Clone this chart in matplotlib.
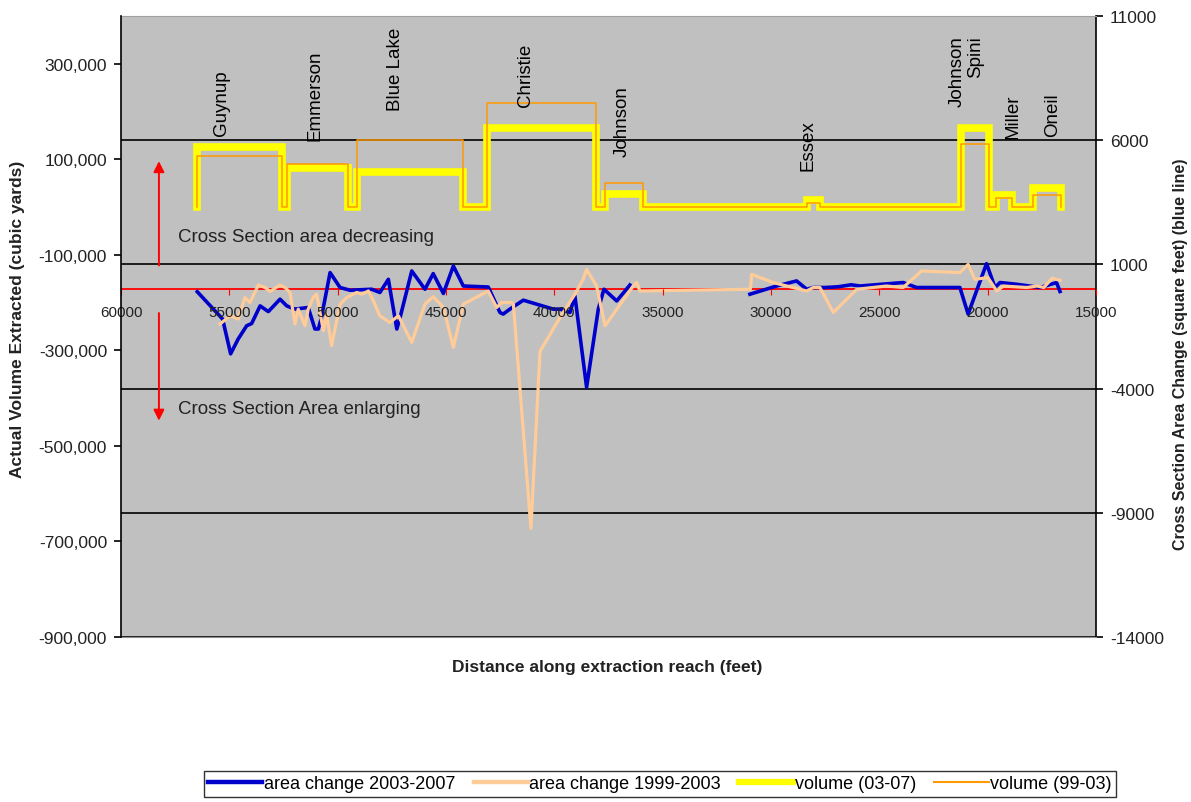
import matplotlib.pyplot as plt
import numpy as np
from matplotlib.lines import Line2D
from matplotlib.ticker import FuncFormatter

plt.rcParams['font.family'] = ['Liberation Sans', 'DejaVu Sans']
plt.rcParams['axes.unicode_minus'] = False

# Extraction sites along the reach (feet) and volume extracted (cubic yards)
site_names = ['Guynup', 'Emmerson', 'Blue Lake', 'Christie', 'Johnson',
              'Essex', 'Johnson\nSpini', 'Miller', 'Oneil']
site_start = [56490, 52340, 49110, 43110, 37660, 28340, 21230, 19620, 17910]
site_end = [52570, 49520, 44220, 38080, 35910, 27740, 19940, 18880, 16620]
vol_0307 = [125000, 82000, 73000, 166000, 27000, 15000, 165000, 25000, 40000]
vol_9903 = [108000, 90000, 140000, 217000, 50000, 8000, 133000, 20000, 25000]

# Cross section area change (square feet), 2003-2007 (gap where no data)
dist_0307 = [56480, 55310, 54940, 54590, 54200, 53970, 53580, 53200, 52660, 52350,
             51970, 51360, 51050, 50890, 50750, 50350, 49890, 49430, 48430, 48050,
             47660, 47270, 47120, 46580, 45970, 45590, 45120, 44660, 44200, 43050,
             42510, 42360, 42050, 41430, 40820, 40050, 39740, 39280, 39050, 38510,
             37970, 37710, 37120, 36510, 33700,
             30970, 29740, 28820, 28350, 28050, 27510, 26900, 26300, 25890, 23900,
             23280, 21280, 20900, 20430, 20050, 19660, 19430, 18660, 17570, 16820, 16660]
area_0307 = [-100, -1200, -2600, -2000, -1470, -1380, -670, -900, -400, -670,
             -800, -735, -1600, -1600, -1140, 670, 70, -40, 0, -130,
             400, -1600, -1140, 735, 0, 630, -170, 935, 130, 90,
             -935, -1000, -800, -440, -600, -800, -800, -935, -270, -3945,
             -800, 0, -470, 170, np.nan,
             -200, 130, 335, 0, 70, 70, 100, 180, 130, 270,
             70, 70, -1000, 130, 1030, 70, 270, 200, 70, 270, -90]

# Cross section area change (square feet), 1999-2003
dist_9903 = [55430, 54970, 54590, 54280, 54050, 53660, 53350, 53120, 52660, 52430,
             52200, 51970, 51820, 51510, 51360, 51130, 50970, 50660, 50510, 50280,
             49890, 49580, 49120, 48890, 48580, 48350, 48050, 47590, 47200, 47120,
             46580, 45970, 45590, 45120, 44660, 44200, 43050, 42660, 42430, 41970,
             41890, 41080, 40660, 39740, 39050, 38670, 38510, 38050, 37660, 36360,
             36200, 36050, 30950, 30890, 29900, 28350, 28050, 27740, 27120, 26040,
             24670, 23900, 23050, 21280, 20900, 20590, 19990, 19580, 19270, 18200,
             17720, 17410, 17020, 16660]
area_9903 = [-1400, -1070, -1200, -335, -535, 170, 70, -90, 170, 70,
             -130, -1400, -800, -1470, -800, -335, -200, -1670, -1000, -2275,
             -600, -335, -130, -200, -70, -470, -1070, -1340, -1070, -1200,
             -2140, -600, -300, -730, -2340, -600, -70, -735, -535, -535,
             -600, -9630, -2500, -1140, -200, 400, 800, 130, -1470, 130,
             270, -70, 0, 600, 270, -70, 70, 70, -935, 0,
             130, 70, 735, 670, 1000, 400, 470, -70, 130, 70,
             130, 70, 440, 360]

x_ticks = [60000, 55000, 50000, 45000, 40000, 35000, 30000, 25000, 20000, 15000]
vol_ticks = [-900000, -700000, -500000, -300000, -100000, 100000, 300000]
area_ticks = [-14000, -9000, -4000, 1000, 6000, 11000]

# where the site names sit (feet, cubic yards)
label_x = [55340, 51050, 47350, 41350, 36880, 28290, 21000, 18830, 16980]
label_y = [150000, 140000, 203000, 211000, 108000, 77000, 360000, 144000, 148000]


def step_outline(starts, ends, vols):
    xs, ys = [], []
    for s, e, v in zip(starts, ends, vols):
        xs += [s, s, e, e]
        ys += [0, v, v, 0]
    return xs, ys


fig = plt.figure(figsize=(11.91, 8.03), dpi=100)
ax = fig.add_axes([0.1016, 0.2055, 0.8186, 0.7733])
ax2 = ax.twinx()

# volume axis on top, area axis (with the gray background and grid) below
ax.set_zorder(2)
ax.patch.set_visible(False)
ax2.patch.set_visible(True)
ax2.set_facecolor('#c0c0c0')

ax.set_xlim(60000, 15000)
ax.set_ylim(-900000, 400000)
ax2.set_ylim(-14000, 11000)

# area change lines, over the red zero line
ax2.yaxis.grid(True, color='black', lw=1.2)
ax2.set_axisbelow(True)
ax2.axhline(0, color='red', lw=1.3, zorder=2)
ax2.plot(dist_0307, area_0307, color='#0000cc', lw=2.6, zorder=3)
ax2.plot(dist_9903, area_9903, color='#ffcc99', lw=2.3, zorder=4)

# volume steps
vx, vy = step_outline(site_start, site_end, vol_0307)
ax.plot(vx, vy, color='#ffff00', lw=5.5, solid_joinstyle='miter')
vx, vy = step_outline(site_start, site_end, vol_9903)
ax.plot(vx, vy, color='#ff9900', lw=1.1)

for name, lx, ly in zip(site_names, label_x, label_y):
    if '\n' in name:
        ax.text(lx, ly, name, rotation=90, ha='center', va='top', fontsize=13.5,
                multialignment='right', linespacing=1.1)
    else:
        ax.text(lx, ly, name, rotation=90, ha='center', va='bottom', fontsize=13.5)

# direction notes
ax.annotate('', xy=(58250, 102000), xytext=(58250, -128000),
            arrowprops=dict(arrowstyle='-|>', color='red', lw=1.4, mutation_scale=16))
ax.annotate('', xy=(58250, -453000), xytext=(58250, -216000),
            arrowprops=dict(arrowstyle='-|>', color='red', lw=1.4, mutation_scale=16))
ax.text(57370, -61000, 'Cross Section area decreasing', fontsize=13.5, va='center', color='#222222')
ax.text(57370, -421000, 'Cross Section Area enlarging', fontsize=13.5, va='center', color='#222222')

# x axis ticks sit on zero area change
zero_frac = (0 - ax2.get_ylim()[0]) / (ax2.get_ylim()[1] - ax2.get_ylim()[0])
ax.spines['bottom'].set_position(('axes', zero_frac))
ax.spines['bottom'].set_visible(False)
ax.set_xticks(x_ticks)
ax.tick_params(axis='x', colors='red', labelcolor='#222222', direction='out',
               length=4, pad=7, labelsize=11)

ax.set_yticks(vol_ticks)
ax.yaxis.set_major_formatter(FuncFormatter(lambda v, p: f'{int(v):,}'))
ax.tick_params(axis='y', direction='out', length=5, width=1.2, pad=5,
               labelsize=12.5, labelcolor='#222222')
ax2.set_yticks(area_ticks)
ax2.tick_params(axis='y', direction='out', length=5, width=1.2, pad=5,
                labelsize=12.5, labelcolor='#222222')

for s in ['top', 'right']:
    ax.spines[s].set_visible(False)
ax2.spines['left'].set_visible(False)
ax.spines['left'].set_linewidth(1.2)
ax2.spines['right'].set_linewidth(1.2)
ax2.spines['top'].set_color('#a0a0a0')
ax2.spines['bottom'].set_color('#909090')

fig.text(18 / 1191, 1 - 319 / 803, 'Actual Volume Extracted (cubic yards)', rotation=90,
         ha='center', va='center', fontsize=12.5, fontweight='bold', color='#222222')
fig.text(1180 / 1191, 1 - 354 / 803, 'Cross Section Area Change (square feet) (blue line)',
         rotation=90, ha='center', va='center', fontsize=11.5, fontweight='bold', color='#222222')
fig.text(607 / 1191, 1 - 668 / 803, 'Distance along extraction reach (feet)',
         ha='center', va='center', fontsize=12.5, fontweight='bold', color='#222222')

handles = [Line2D([], [], color='#0000cc', lw=3.2),
           Line2D([], [], color='#ffcc99', lw=3.2),
           Line2D([], [], color='#ffff00', lw=4.5),
           Line2D([], [], color='#ff9900', lw=1.5)]
labels = ['area change 2003-2007', 'area change 1999-2003', 'volume (03-07)', 'volume (99-03)']
leg = fig.legend(handles, labels, loc='center', bbox_to_anchor=(660 / 1191, 1 - 785 / 803),
                 ncol=4, frameon=True, fancybox=False, edgecolor='black', fontsize=13,
                 handlelength=3.0, handletextpad=0.1, columnspacing=1.0, borderpad=0.25,
                 borderaxespad=0)
leg.get_frame().set_linewidth(1.0)

fig.savefig('out.png', dpi=100)
